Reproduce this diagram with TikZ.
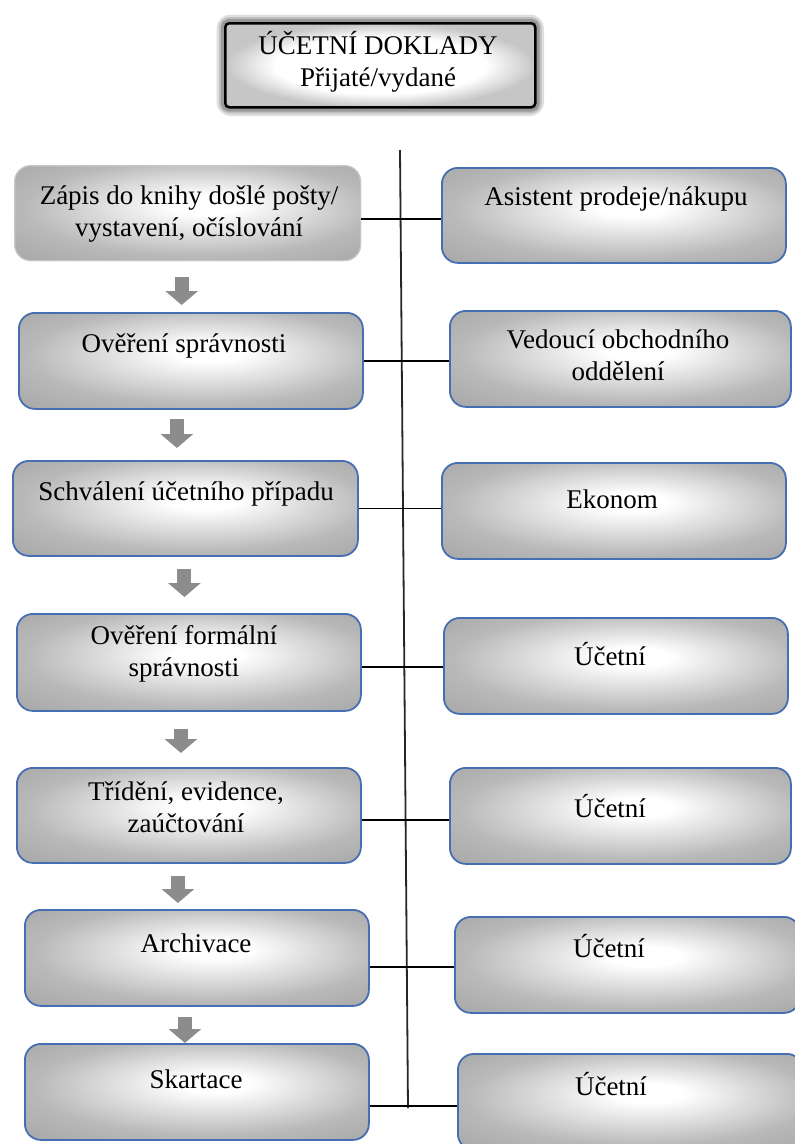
\documentclass[tikz,border=0pt]{standalone}
\usepackage{fontspec}
\setmainfont{Liberation Serif}
\usetikzlibrary{arrows.meta,backgrounds}
\pgfdeclareradialshading{boxsh}{\pgfpoint{3bp}{5bp}}{color(0bp)=(white); color(5bp)=(white); color(25bp)=(gray!55); color(36bp)=(gray!68); color(50bp)=(gray!68)}
\pgfdeclareradialshading{titlesh}{\pgfpoint{0bp}{0bp}}{color(0bp)=(white); color(17bp)=(white); color(25bp)=(gray!45); color(50bp)=(gray!45)}
\definecolor{bblue}{RGB}{72,110,178}
\definecolor{arrg}{RGB}{140,140,140}
\definecolor{lgborder}{RGB}{200,200,200}
\begin{document}
\begin{tikzpicture}[x=1pt,y=-1pt,
  box/.style={rounded corners=16pt, draw=bblue, line width=1.8pt, shading=boxsh, inner sep=0pt, anchor=north west},
  txt/.style={font=\fontsize{27}{32}\selectfont, align=center, inner sep=0pt},
  conn/.style={line width=1.8pt, black},
  blk/.style={line width=14pt, draw=arrg, -{Triangle[width=32pt,length=14pt]}}
]
\useasboundingbox (0,0) rectangle (795,1144);

% title
\node[draw=black, line width=2.5pt, rounded corners=4pt, shading=titlesh, minimum width=310pt, minimum height=84pt, anchor=north west, inner sep=0pt] (title) at (224,22) {};
\begin{scope}[on background layer]
  \draw[line width=15pt, gray!25, rounded corners=7pt] (title.north west) rectangle (title.south east);
  \draw[line width=10pt, gray!50, rounded corners=6pt] (title.north west) rectangle (title.south east);
  \draw[line width=6pt, gray!80, rounded corners=5pt] (title.north west) rectangle (title.south east);
\end{scope}
\node[txt] (titlet) at (378,62) {ÚČETNÍ DOKLADY\\Přijaté/vydané};

% left boxes
\node[box, draw=lgborder, line width=1.3pt, minimum width=346pt, minimum height=95pt] (l1) at (14,165) {};
\node[box, minimum width=344pt, minimum height=96pt] (l2) at (18,312) {};
\node[box, minimum width=345pt, minimum height=95pt] (l3) at (12,460) {};
\node[box, minimum width=344pt, minimum height=97pt] (l4) at (16,613) {};
\node[box, minimum width=344pt, minimum height=95pt] (l5) at (16,767) {};
\node[box, minimum width=344pt, minimum height=96pt] (l6) at (24,909) {};
\node[box, minimum width=344pt, minimum height=96pt] (l7) at (24,1043) {};

% right boxes
\node[box, minimum width=344pt, minimum height=95pt] (r1) at (441,167) {};
\node[box, minimum width=341pt, minimum height=96pt] (r2) at (449,310) {};
\node[box, minimum width=344pt, minimum height=96pt] (r3) at (441,462) {};
\node[box, minimum width=344pt, minimum height=96pt] (r4) at (443,617) {};
\node[box, minimum width=341pt, minimum height=96pt] (r5) at (449,767) {};
\node[box, minimum width=345pt, minimum height=96pt] (r6) at (454,916) {};
\node[box, minimum width=345pt, minimum height=96pt] (r7) at (457,1053) {};

% texts
\node[txt] (l1t) at (189,214) {Zápis do knihy došlé pošty/\\vystavení, očíslování};
\node[txt] (l2t) at (184,346) {Ověření správnosti};
\node[txt] (l3t) at (186,494) {Schválení účetního případu};
\node[txt] (l4t) at (184,654) {Ověření formální\\správnosti};
\node[txt] (l5t) at (186,807) {Třídění, evidence,\\zaúčtování};
\node[txt] (l6t) at (196,943) {Archivace};
\node[txt] (l7t) at (196,1079) {Skartace};

\node[txt] (r1t) at (616,199) {Asistent prodeje/nákupu};
\node[txt] (r2t) at (618,355) {Vedoucí obchodního\\oddělení};
\node[txt] (r3t) at (612,499) {Ekonom};
\node[txt] (r4t) at (610,654) {Účetní};
\node[txt] (r5t) at (610,806) {Účetní};
\node[txt] (r6t) at (609,946) {Účetní};
\node[txt] (r7t) at (611,1084) {Účetní};

% vertical line
\coordinate (vt) at (400,150);
\coordinate (vb) at (408,1108);
\draw[line width=1.8pt, black!85] (vt) -- (vb);

% connectors
\draw[conn] ([yshift=-5.5pt]l1.east) -- ([yshift=-5.5pt]l1.east -| r1.west);
\draw[conn] (l2.east) -- (l2.east -| r2.west);
\draw[conn] (l3.east) -- (l3.east -| r3.west);
\draw[conn] ([yshift=-4.5pt]l4.east) -- ([yshift=-4.5pt]l4.east -| r4.west);
\draw[conn] ([yshift=-4.5pt]l5.east) -- ([yshift=-4.5pt]l5.east -| r5.west);
\draw[conn] ([yshift=-9pt]l6.east) -- ([yshift=-9pt]l6.east -| r6.west);
\draw[conn] ([yshift=-14pt]l7.east) -- ([yshift=-14pt]l7.east -| r7.west);

% block arrows
\draw[blk, shorten <=16pt, shorten >=7pt] ([xshift=-6pt]l1.south) -- ([xshift=-6pt]l1.south |- l2.north);
\draw[blk, shorten <=9pt, shorten >=12pt] ([xshift=-14pt]l2.south) -- ([xshift=-14pt]l2.south |- l3.north);
\draw[blk, shorten <=12pt, shorten >=16pt] ([xshift=-1pt]l3.south) -- ([xshift=-1pt]l3.south |- l4.north);
\draw[blk, shorten <=17pt, shorten >=14pt] ([xshift=-8pt]l4.south) -- ([xshift=-8pt]l4.south |- l5.north);
\draw[blk, shorten <=12pt, shorten >=6pt] ([xshift=-11pt]l5.south) -- ([xshift=-11pt]l5.south |- l6.north);
\draw[blk, shorten <=10pt, shorten >=0pt] ([xshift=-12pt]l6.south) -- ([xshift=-12pt]l6.south |- l7.north);
\end{tikzpicture}
\end{document}
